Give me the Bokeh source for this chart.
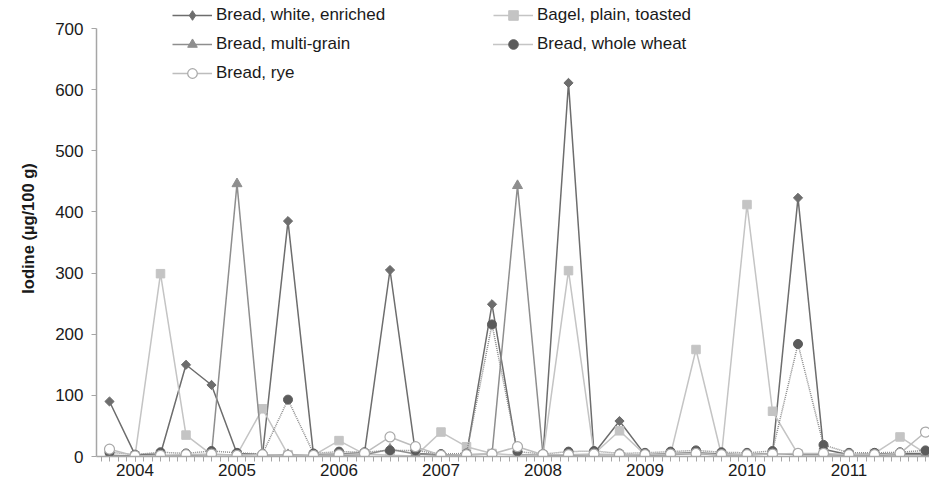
from bokeh.plotting import figure
from bokeh.models import Range1d, FixedTicker, Legend, LegendItem, Title
from bokeh.embed import file_html
from bokeh.resources import INLINE

# Quarterly sampling dates (decimal years), Oct 2003 - Oct 2011
quarters = [2003.75, 2004.0, 2004.25, 2004.5, 2004.75, 2005.0, 2005.25, 2005.5,
            2005.75, 2006.0, 2006.25, 2006.5, 2006.75, 2007.0, 2007.25, 2007.5,
            2007.75, 2008.0, 2008.25, 2008.5, 2008.75, 2009.0, 2009.25, 2009.5,
            2009.75, 2010.0, 2010.25, 2010.5, 2010.75, 2011.0, 2011.25, 2011.5,
            2011.75]

# Iodine content (µg/100 g)
bread_white = [90, 3, 4, 150, 117, 5, 3, 385, 3, 4, 6, 305, 5, 3, 3, 249, 3,
               2, 611, 5, 58, 3, 5, 6, 4, 3, 4, 423, 12, 3, 4, 5, 5]
bagel = [0, 1, 299, 35, 3, 3, 78, 3, 2, 26, 4, 2, 1, 40, 16, 5, 2,
         2, 304, 4, 42, 3, 3, 175, 2, 412, 74, 4, 4, 3, 5, 32, 5]
bread_multigrain = [2, 1, 1, 2, 3, 446, 2, 3, 1, 2, 3, 12, 4, 2, 3, 4, 443,
                    2, 2, 3, 3, 2, 3, 5, 2, 3, 5, 3, 3, 2, 2, 3, 3]
bread_wholewheat = [7, 3, 7, 5, 9, 6, 4, 93, 5, 8, 7, 10, 10, 4, 5, 216, 8,
                    4, 8, 9, 5, 6, 8, 10, 7, 6, 9, 184, 19, 6, 6, 7, 10]
bread_rye = [12, 1, 2, 3, 4, 2, 3, 2, 2, 3, 5, 32, 16, 2, 3, 4, 16,
             3, 3, 4, 3, 3, 4, 5, 3, 3, 4, 5, 5, 3, 3, 5, 40]

year_ticks = [2004, 2005, 2006, 2007, 2008, 2009, 2010, 2011]
y_ticks = [0, 100, 200, 300, 400, 500, 600, 700]

FONT = "Liberation Sans"
TEXT = "#1a1a1a"
AXIS = "#a6a6a6"

x_start = 2004 - 38.5 / 102
x_end = x_start + 833 / 102

# the plotting area reaches the top edge so the key can sit above the 700 line
p = figure(width=929, height=492, output_backend="svg", toolbar_location=None,
           x_range=Range1d(x_start, x_end), y_range=Range1d(0, 745.8),
           min_border_left=96, min_border_right=0, min_border_top=0,
           min_border_bottom=36)
p.outline_line_color = None
p.xgrid.visible = False
p.ygrid.visible = False
p.background_fill_color = "white"
p.border_fill_color = "white"

# x axis: years labelled, monthly tick marks
months = [y + m / 12 for y in range(2003, 2013) for m in range(12)]
months = [m for m in months if x_start <= m <= x_end]
xa = p.xaxis[0]
xa.ticker = FixedTicker(ticks=year_ticks, minor_ticks=months)
xa.major_label_overrides = {y: str(y) for y in year_ticks}
xa.axis_line_color = AXIS
xa.axis_line_width = 1.5
xa.major_tick_line_color = AXIS
xa.minor_tick_line_color = AXIS
xa.major_tick_in = 0
xa.major_tick_out = 5
xa.minor_tick_in = 0
xa.minor_tick_out = 5
xa.major_label_standoff = 2
xa.major_label_text_font = FONT
xa.major_label_text_font_size = "17px"
xa.major_label_text_color = TEXT

ya = p.yaxis[0]
ya.ticker = FixedTicker(ticks=y_ticks, minor_ticks=[])
ya.bounds = (0, 700)
ya.axis_line_color = AXIS
ya.axis_line_width = 1.5
ya.major_tick_line_color = AXIS
ya.major_tick_in = 0
ya.major_tick_out = 5
ya.major_label_standoff = 8
ya.major_label_text_font = FONT
ya.major_label_text_font_size = "17px"
ya.major_label_text_color = TEXT

# y title, centred on the 0-700 span of the axis rather than the whole frame
p.add_layout(Title(text="Iodine (µg/100 g)", align="center", offset=16,
                   standoff=32, text_font=FONT, text_font_size="16.5px",
                   text_font_style="bold", text_color=TEXT), "left")

items = {}

# Bread, white, enriched
l1 = p.line(quarters, bread_white, line_color="#6d6d6d", line_width=1.5)
# narrow diamond used as the legend key; it sits fully under the markers below
k1 = p.scatter(quarters, bread_white, marker="diamond", size=7,
               fill_color="#6d6d6d", line_color="#6d6d6d")
# plotted diamonds: squares turned by 45 degrees
p.scatter(quarters, bread_white, marker="square", size=6.5, angle=0.7854,
          fill_color="#6d6d6d", line_color="#6d6d6d")
items["Bread, white, enriched"] = [l1, k1]

# Bagel, plain, toasted
l2 = p.line(quarters, bagel, line_color="#c4c4c4", line_width=1.5)
m2 = p.scatter(quarters, bagel, marker="square", size=8.5,
               fill_color="#c4c4c4", line_color="#c4c4c4")
items["Bagel, plain, toasted"] = [l2, m2]

# Bread, multi-grain
l3 = p.line(quarters, bread_multigrain, line_color="#8e8e8e", line_width=1.5)
m3 = p.scatter(quarters, bread_multigrain, marker="triangle", size=10,
               fill_color="#8e8e8e", line_color="#8e8e8e")
items["Bread, multi-grain"] = [l3, m3]

# Bread, whole wheat
l4 = p.line(quarters, bread_wholewheat, line_color="#8a8a8a", line_width=1.5,
            line_dash="1 1")
m4 = p.scatter(quarters, bread_wholewheat, marker="circle", size=9,
               fill_color="#5b5b5b", line_color="#5b5b5b")
items["Bread, whole wheat"] = [l4, m4]

# Bread, rye
l5 = p.line(quarters, bread_rye, line_color="#bdbdbd", line_width=1.5)
m5 = p.scatter(quarters, bread_rye, marker="circle", size=10,
               fill_color="white", line_color="#a8a8a8", line_width=1.2)
items["Bread, rye"] = [l5, m5]


def make_legend(labels, loc):
    leg = Legend(items=[LegendItem(label=t, renderers=items[t]) for t in labels],
                 location=loc, orientation="vertical")
    leg.background_fill_alpha = 0
    leg.border_line_color = None
    leg.padding = 0
    leg.margin = 0
    leg.spacing = 5
    leg.glyph_width = 40
    leg.glyph_height = 24
    leg.label_height = 24
    leg.label_standoff = 4
    leg.label_text_font = FONT
    leg.label_text_font_size = "17px"
    leg.label_text_color = TEXT
    return leg


p.add_layout(make_legend(["Bread, white, enriched", "Bread, multi-grain",
                          "Bread, rye"], (76, 371)))
p.add_layout(make_legend(["Bagel, plain, toasted", "Bread, whole wheat"],
                         (397, 400)))

open("out.html", "w").write(file_html(p, INLINE))
